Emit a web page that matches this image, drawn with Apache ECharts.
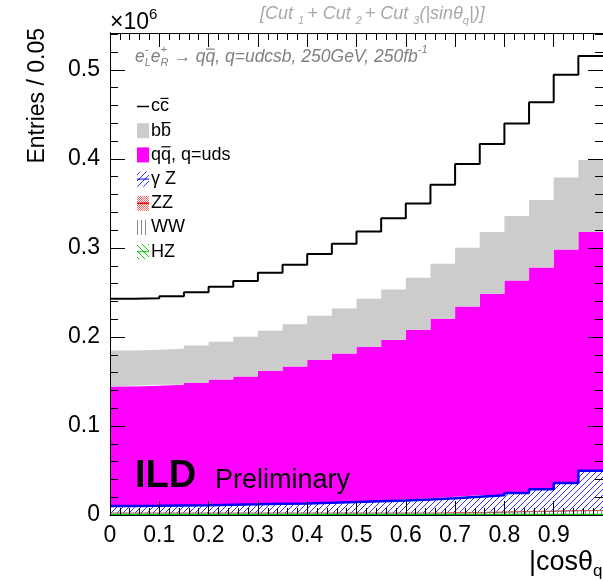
<!DOCTYPE html>
<html>
<head>
<meta charset="utf-8">
<script src="https://cdn.jsdelivr.net/npm/echarts@6/dist/echarts.min.js"></script>
<style>
  html, body { margin: 0; padding: 0; background: #ffffff; }
  #chart { width: 603px; height: 583px; }
</style>
</head>
<body>
<div id="chart"></div>
<script>
// Bin edges of |cos theta_q| (20 bins of width 0.05)
const binEdges = [0, 0.05, 0.1, 0.15, 0.2, 0.25, 0.3, 0.35, 0.4, 0.45, 0.5,
                  0.55, 0.6, 0.65, 0.7, 0.75, 0.8, 0.85, 0.9, 0.95, 1.0];

// Entries per bin for each process, in units of 10^6 (stacked bottom to top)
const hzEntries = [0.0004, 0.0004, 0.0004, 0.0004, 0.0004, 0.0004, 0.0004, 0.0004, 0.0004, 0.0004,
                   0.0004, 0.0004, 0.0004, 0.0004, 0.0004, 0.0004, 0.0004, 0.0004, 0.0004, 0.0004];
const wwEntries = [0.0018, 0.0018, 0.0018, 0.0018, 0.0018, 0.0018, 0.0018, 0.0018, 0.0018, 0.0018,
                   0.0018, 0.0018, 0.0018, 0.0018, 0.0022, 0.0026, 0.0032, 0.0036, 0.0042, 0.0046];
const zzEntries = [0.0006, 0.0006, 0.0006, 0.0006, 0.0006, 0.0006, 0.0006, 0.0006, 0.0006, 0.0006,
                   0.0006, 0.0006, 0.0006, 0.0006, 0.0006, 0.0006, 0.0006, 0.0006, 0.0006, 0.0006];
const gammaZEntries = [0.0073, 0.0075, 0.0079, 0.0082, 0.0088, 0.0092, 0.0098, 0.0102, 0.0110, 0.0118,
                       0.0127, 0.0134, 0.0147, 0.0160, 0.0173, 0.0186, 0.0206, 0.0244, 0.0308, 0.0442];
const udsEntries = [0.1342, 0.1348, 0.1355, 0.1375, 0.1406, 0.1436, 0.1494, 0.1539, 0.1606, 0.1669,
                    0.1736, 0.1808, 0.1907, 0.2018, 0.2137, 0.2263, 0.2387, 0.2491, 0.2624, 0.2681];
const bbEntries = [0.0406, 0.0406, 0.0406, 0.0420, 0.0425, 0.0447, 0.0451, 0.0473, 0.0493, 0.0504,
                   0.0537, 0.0563, 0.0583, 0.0617, 0.0661, 0.0694, 0.0725, 0.0759, 0.0808, 0.0809];
const ccEntries = [0.0579, 0.0578, 0.0590, 0.0598, 0.0616, 0.0627, 0.0651, 0.0670, 0.0694, 0.0729,
                   0.0756, 0.0801, 0.0835, 0.0886, 0.0940, 0.0989, 0.1037, 0.1098, 0.1154, 0.1169];

const legendLabels = ['cc', 'bb', 'qq, q=uds', 'γ Z', 'ZZ', 'WW', 'HZ'];

const FONT = '"Liberation Sans", Arial, Helvetica, sans-serif';

// ---- fill patterns -------------------------------------------------------
function makePattern(size, bg, draw) {
  const c = document.createElement('canvas');
  c.width = size; c.height = size;
  const g = c.getContext('2d');
  if (bg) { g.fillStyle = bg; g.fillRect(0, 0, size, size); }
  draw(g, size);
  return { image: c, repeat: 'repeat' };
}
const blueHatch = makePattern(6, '#ffffff', (g, s) => {
  g.strokeStyle = '#1a1aff'; g.lineWidth = 0.9;
  g.beginPath();
  for (const k of [-s, 0, s]) { g.moveTo(k - 1, s + 1); g.lineTo(k + s + 1, -1); }
  g.stroke();
});
const greenHatch = makePattern(6, '#ffffff', (g, s) => {
  g.strokeStyle = '#00cc00'; g.lineWidth = 1;
  g.beginPath();
  for (const k of [-s, 0, s]) { g.moveTo(k - 1, -1); g.lineTo(k + s + 1, s + 1); }
  g.stroke();
});
const greyVertical = makePattern(4, '#ffffff', (g, s) => {
  g.fillStyle = '#8c8c8c'; g.fillRect(1, 0, 1, s);
});
const redCheck = makePattern(2, '#ffffff', (g) => {
  g.fillStyle = '#ff6060'; g.fillRect(0, 0, 1, 1); g.fillRect(1, 1, 1, 1);
});

// ---- series -------------------------------------------------------------
// One value per bin edge; the last bin's value is repeated at the upper edge
function toSteps(values) {
  return binEdges.map((x, i) => values[Math.min(i, values.length - 1)]);
}
const totals = ccEntries.map((_, i) =>
  hzEntries[i] + wwEntries[i] + zzEntries[i] + gammaZEntries[i] + udsEntries[i] + bbEntries[i] + ccEntries[i]);
const yMax = 1.05 * Math.max(...totals);

const layers = [
  { name: 'HZ', values: hzEntries, line: '#00c800', lineWidth: 2, fill: greenHatch, z: 3 },
  { name: 'WW', values: wwEntries, line: '#808080', lineWidth: 1, fill: greyVertical, z: 2 },
  { name: 'ZZ', values: zzEntries, line: '#e04040', lineWidth: 1, fill: redCheck, z: 2 },
  { name: 'γ Z', values: gammaZEntries, line: '#0000ff', lineWidth: 2.5, fill: blueHatch, z: 3 },
  { name: 'qq, q=uds', values: udsEntries, line: null, fill: '#ff00ff', z: 2 },
  { name: 'bb', values: bbEntries, line: null, fill: '#cccccc', z: 2 },
  { name: 'cc', values: ccEntries, line: '#000000', lineWidth: 2, fill: null, z: 4 }
];

const series = layers.map(l => ({
  name: l.name,
  type: 'line',
  stack: 'mc',
  step: 'end',
  data: toSteps(l.values),
  xAxisIndex: 2,
  yAxisIndex: 0,
  symbol: 'none',
  silent: true,
  z: l.z,
  lineStyle: l.line ? { color: l.line, width: l.lineWidth } : { width: 0, opacity: 0 },
  areaStyle: l.fill ? { color: l.fill, opacity: 1 } : undefined
}));

// ---- text helpers -------------------------------------------------------
const measureCtx = document.createElement('canvas').getContext('2d');
function fontOf(size, opts) {
  return (opts && opts.italic ? 'italic ' : '') + (opts && opts.bold ? 'bold ' : '') + size + 'px ' + FONT;
}
function textWidth(t, font) { measureCtx.font = font; return measureCtx.measureText(t).width; }
function textEl(x, y, t, font, color, extra) {
  return Object.assign({
    type: 'text', x: x, y: y, silent: true, z: 20,
    style: { text: t, font: font, fill: color, align: 'left', textAlign: 'left',
             verticalAlign: 'middle', textVerticalAlign: 'middle' }
  }, extra || {});
}
// Lays out runs of text (with sub/superscripts) left to right around a centre line
function runText(x, cy, runs, color, opts) {
  const els = [];
  let cx = x;
  for (const r of runs) {
    const font = fontOf(r.size, Object.assign({}, opts, r.bold ? { bold: true } : {}));
    const parts = r.stack || [{ t: r.t, dy: r.dy || 0 }];
    let adv = 0;
    for (const p of parts) {
      els.push(textEl(cx, cy + (p.dy || 0), p.t, font, color));
      adv = Math.max(adv, textWidth(p.t, font));
    }
    if (r.bar) {
      const bw = textWidth(r.t, font);
      els.push({ type: 'line', silent: true, z: 20,
                 shape: { x1: cx + 0.5, y1: cy - r.size * 0.45, x2: cx + bw - 0.5, y2: cy - r.size * 0.45 },
                 style: { stroke: color, lineWidth: 1.2 } });
    }
    cx += adv + (r.gap || 0);
  }
  return els;
}

// ---- legend -------------------------------------------------------------
const legendX = 137, legendTextX = 151, legendY0 = 106.5, legendStep = 24.2;
const legendEls = [];
const legendSize = 18;
function legendRow(i, markerEls, runs) {
  const cy = legendY0 + i * legendStep;
  markerEls(cy).forEach(e => { e.z = 20; legendEls.push(e); });
  runText(legendTextX, cy, runs, '#000000').forEach(e => legendEls.push(e));
}
const box = (cy, fill) => ({ type: 'rect', silent: true, shape: { x: legendX, y: cy - 7.5, width: 12, height: 15 },
                             style: { fill: fill } });
const mid = (cy, color, w) => ({ type: 'line', silent: true, shape: { x1: legendX, y1: cy, x2: legendX + 12, y2: cy },
                                 style: { stroke: color, lineWidth: w } });
legendRow(0, cy => [mid(cy, '#000000', 1.5)],
          [{ t: legendLabels[0][0], size: legendSize }, { t: legendLabels[0][1], size: legendSize, bar: true }]);
legendRow(1, cy => [box(cy, '#cccccc')],
          [{ t: legendLabels[1][0], size: legendSize }, { t: legendLabels[1][1], size: legendSize, bar: true }]);
legendRow(2, cy => [box(cy, '#ff00ff')],
          [{ t: 'q', size: legendSize }, { t: 'q', size: legendSize, bar: true }, { t: legendLabels[2].slice(2), size: legendSize }]);
legendRow(3, cy => [box(cy, blueHatch), mid(cy, '#0000ff', 1)], [{ t: legendLabels[3], size: legendSize }]);
legendRow(4, cy => [box(cy, redCheck), mid(cy, '#ff0000', 1.5)], [{ t: legendLabels[4], size: legendSize }]);
legendRow(5, cy => [box(cy, greyVertical)], [{ t: legendLabels[5], size: legendSize }]);
legendRow(6, cy => [box(cy, greenHatch), mid(cy, '#00cc00', 1)], [{ t: legendLabels[6], size: legendSize }]);

// ---- annotations --------------------------------------------------------
const headerEls = runText(260, 14, [
  { t: '[Cut ', size: 18 }, { t: '1', size: 11, dy: 7, gap: 3 },
  { t: '+ Cut ', size: 18 }, { t: '2', size: 11, dy: 7, gap: 3 },
  { t: '+ Cut ', size: 18 }, { t: '3', size: 11, dy: 7 },
  { t: '(|sinθ', size: 18 }, { t: 'q', size: 11, dy: 7 }, { t: '|)]', size: 18 }
], '#a8a8a8', { italic: true });

const processEls = runText(135, 57, [
  { t: 'e', size: 17.5 }, { stack: [{ t: '-', dy: -7 }, { t: 'L', dy: 6 }], size: 11 },
  { t: 'e', size: 17.5 }, { stack: [{ t: '+', dy: -7 }, { t: 'R', dy: 6 }], size: 11 },
  { t: ' → q', size: 17.5 }, { t: 'q', size: 17.5, bar: true },
  { t: ', q=udcsb, 250GeV, 250fb', size: 17.5 }, { t: '-1', size: 11, dy: -7 }
], '#808080', { italic: true });

const exponentEls = runText(110, 23, [
  { t: '×10', size: 23 }, { t: '6', size: 15, dy: -8 }
], '#000000');

const xTitleEls = runText(529, 563, [
  { t: '|cosθ', size: 27 }, { t: 'q', size: 17, dy: 8 }, { t: '|', size: 27 }
], '#000000');

const ildEls = [
  textEl(135, 477, 'ILD', fontOf(38, { bold: true }), '#000000'),
  textEl(215, 481, 'Preliminary', fontOf(27), '#000000')
];

const yTitle = {
  type: 'text', x: 38, y: 28, rotation: Math.PI / 2, silent: true,
  style: { text: 'Entries / 0.05', font: fontOf(23), fill: '#000',
           align: 'right', textAlign: 'right', verticalAlign: 'middle', textVerticalAlign: 'middle' }
};

// ---- axes ---------------------------------------------------------------
const gridRect = { left: 110, top: 33, width: 496, height: 482 };
const black = { color: '#000000', width: 1 };
function xAxisDef(pos, labels, grid) {
  return {
    type: 'value', gridIndex: grid, position: pos, min: 0, max: 1, interval: 0.1, z: 10,
    axisLine: { show: true, onZero: false, lineStyle: black },
    axisTick: { show: true, inside: true, length: 14, lineStyle: black },
    minorTick: { show: true, splitNumber: 5, length: 7, lineStyle: black },
    splitLine: { show: false }, minorSplitLine: { show: false },
    axisLabel: labels ? { show: true, fontSize: 23, fontFamily: FONT, color: '#000', margin: 9,
                          showMaxLabel: false } : { show: false }
  };
}
function yAxisDef(pos, step, tickLen, labels, grid) {
  return {
    type: 'value', gridIndex: grid, position: pos, min: 0, max: yMax, interval: step, z: 10,
    axisLine: { show: true, onZero: false, lineStyle: black },
    axisTick: { show: true, inside: true, length: tickLen, lineStyle: black },
    splitLine: { show: false },
    axisLabel: labels ? { show: true, fontSize: 23, fontFamily: FONT, color: '#000', margin: 10,
                          showMaxLabel: false } : { show: false }
  };
}
// Bin-edge axis that carries the stacked histograms (same extent as the value axis)
const binAxis = {
  type: 'category', gridIndex: 0, data: binEdges.map(String), boundaryGap: false, show: false
};

const option = {
  animation: false,
  backgroundColor: '#ffffff',
  grid: [Object.assign({ show: false }, gridRect), Object.assign({ show: false }, gridRect)],
  xAxis: [xAxisDef('bottom', true, 0), xAxisDef('top', false, 0), binAxis,
          Object.assign(xAxisDef('bottom', false, 1), { show: false })],
  yAxis: [yAxisDef('left', 0.1, 15, true, 0), yAxisDef('right', 0.1, 15, false, 0),
          yAxisDef('left', 0.02, 8, false, 1), yAxisDef('right', 0.02, 8, false, 1)],
  series: series,
  graphic: { elements: [yTitle].concat(legendEls, headerEls, processEls, exponentEls, xTitleEls, ildEls) }
};

const chart = echarts.init(document.getElementById('chart'), null, { renderer: 'canvas' });
chart.setOption(option);
</script>
</body>
</html>
